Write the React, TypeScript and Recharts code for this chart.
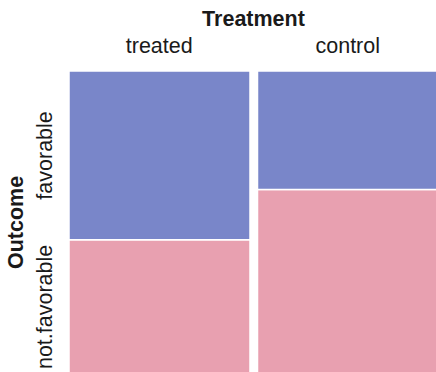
import { BarChart, Bar, XAxis, YAxis, Label } from 'recharts';

const treatments = ['treated', 'control'];
const favorable = [39, 27];
const notFavorable = [31, 42];
const outcomeLabels = ['not.favorable', 'favorable'];

const data = treatments.map((name, i) => {
  const total = favorable[i] + notFavorable[i];
  return {
    name,
    notFavorable: notFavorable[i] / total,
    favorable: favorable[i] / total,
  };
});

// outcome labels sit in the middle of the first column's tiles
const firstNot = data[0].notFavorable;
const outcomeTicks = [firstNot / 2, firstNot + (1 - firstNot) / 2];

const FONT = '"Liberation Sans", Arial, Helvetica, sans-serif';
const TEXT = '#1a1a1a';

function OutcomeTick(props: any) {
  const { x, y, index } = props;
  return (
    <text
      x={x}
      y={y}
      transform={`rotate(-90, ${x}, ${y})`}
      textAnchor="middle"
      fontSize={21.5}
      fontFamily={FONT}
      fill={TEXT}
    >
      {outcomeLabels[index]}
    </text>
  );
}

export default function App() {
  return (
    <div style={{ position: 'absolute', left: 0, top: 0, width: 436, height: 372, overflow: 'hidden', background: '#fff' }}>
      <BarChart
        width={442}
        height={374}
        data={data}
        margin={{ top: 0, right: 0, bottom: 0, left: 0 }}
        barCategoryGap={4}
      >
        <XAxis
          dataKey="name"
          orientation="top"
          height={71}
          axisLine={false}
          tickLine={false}
          tickSize={0}
          tickMargin={18}
          tick={{ fontSize: 21.5, fontFamily: FONT, fill: TEXT }}
          interval={0}
        >
          <Label
            value="Treatment"
            position="insideTop"
            offset={10.7}
            fontSize={21.5}
            fontWeight="bold"
            fontFamily={FONT}
            fill={TEXT}
          />
        </XAxis>
        <YAxis
          type="number"
          domain={[0, 1]}
          ticks={outcomeTicks}
          width={65}
          axisLine={false}
          tickLine={false}
          tickSize={0}
          tickMargin={13}
          tick={<OutcomeTick />}
        >
          <Label
            value="Outcome"
            position="center"
            angle={-90}
            dx={-17.5}
            fontSize={21.5}
            fontWeight="bold"
            fontFamily={FONT}
            fill={TEXT}
          />
        </YAxis>
        <Bar dataKey="notFavorable" stackId="a" fill="#E8A0B0" stroke="#ffffff" strokeWidth={1.5} isAnimationActive={false} />
        <Bar dataKey="favorable" stackId="a" fill="#7986C9" stroke="#ffffff" strokeWidth={1.5} isAnimationActive={false} />
      </BarChart>
    </div>
  );
}
